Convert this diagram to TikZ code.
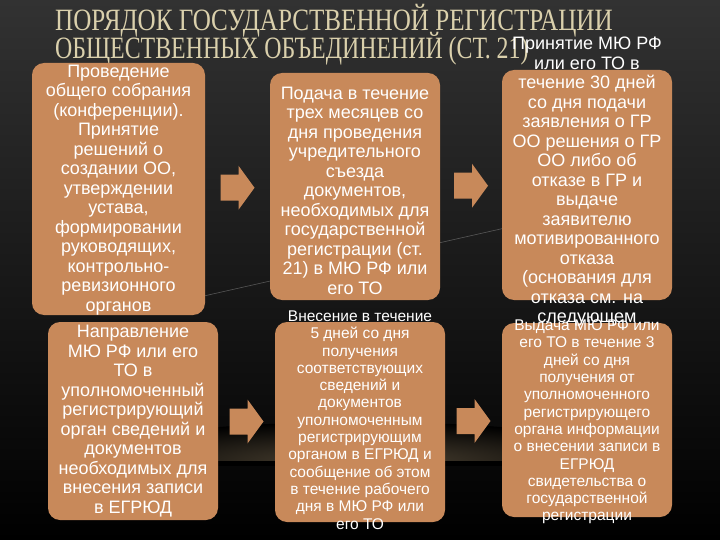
\documentclass[tikz,border=0pt]{standalone}
\usepackage{graphicx}
\usepackage{fontspec}
\setmainfont{Liberation Serif}
\newfontfamily\boxfont{Liberation Sans}
\usetikzlibrary{calc,positioning}

\definecolor{boxfill}{RGB}{200,137,90}
\definecolor{titlecol}{RGB}{218,208,172}
\definecolor{goldline}{RGB}{196,146,62}
\definecolor{bgtop}{RGB}{50,50,50}
\definecolor{glowcol}{RGB}{78,68,52}

\begin{document}
\begin{tikzpicture}[x=1pt,y=-1pt,
    stagebox/.style={fill=boxfill, rounded corners=12pt, inner sep=0pt},
    stagetext/.style={text=white, align=center, inner sep=0pt,
        font=\boxfont\fontsize{18}{19.5}\selectfont},
    smalltext/.style={stagetext, font=\boxfont\fontsize{15.5}{17.3}\selectfont},
    titletext/.style={anchor=base west, inner sep=0pt, text=titlecol,
        font=\fontsize{31}{31}\selectfont},
    blockarr/.pic={\fill[boxfill] (-17,-13) -- (1,-13) -- (1,-22) -- (17,0)
        -- (1,22) -- (1,13) -- (-17,13) -- cycle;}]
    \useasboundingbox (0,0) rectangle (720,540);

    % Background
    \shade[top color=bgtop, middle color=black, bottom color=black] (0,0) rectangle (720,540);
    \begin{scope}
        \clip (0,400) rectangle (720,462);
        \shade[inner color=glowcol, outer color=black] (360,462) ellipse (290 and 40);
    \end{scope}
    \shade[left color=black, middle color=goldline, right color=black] (70,461) rectangle (660,465);
    \draw[gray, line width=0.6pt, opacity=0.6] (195,298) -- (505,228);

    % Title
    \node[titletext] (titleA) at (55,31) {\scalebox{0.81}[1]{ПОРЯДОК ГОСУДАРСТВЕННОЙ РЕГИСТРАЦИИ}};
    \node[titletext] (titleB) at (55,59) {\scalebox{0.77}[1]{ОБЩЕСТВЕННЫХ ОБЪЕДИНЕНИЙ (СТ. 21)}};

    % Stage boxes
    \node[stagebox, minimum width=173, minimum height=252] (meeting) at (118.5,189) {};
    \node[stagebox, minimum width=170, minimum height=227] (submission) at (355,186.5) {};
    \node[stagebox, minimum width=170, minimum height=230] (decision) at (587,185) {};
    \node[stagebox, minimum width=170, minimum height=198] (sending) at (133,421) {};
    \node[stagebox, minimum width=170, minimum height=200] (entry) at (360,422) {};
    \node[stagebox, minimum width=170, minimum height=194] (issue) at (587,420) {};

    % Arrows between stages
    \pic at ($(meeting.east)!0.5!(submission.west)$) {blockarr};
    \pic at ($(submission.east)!0.5!(decision.west)$) {blockarr};
    \pic at ($(sending.east)!0.5!(entry.west)$) {blockarr};
    \pic at ($(entry.east)!0.5!(issue.west)$) {blockarr};

    % Texts
    \node[stagetext] (meetingtext) at ($(meeting.center)+(0,1)$) {Проведение\\общего собрания\\(конференции).\\Принятие\\решений о\\создании ОО,\\утверждении\\устава,\\формировании\\руководящих,\\контрольно-\\ревизионного\\органов};
    \node[stagetext] (submissiontext) at ($(submission.center)+(0,4)$) {Подача в течение\\трех месяцев со\\дня проведения\\учредительного\\съезда\\документов,\\необходимых для\\государственной\\регистрации (ст.\\21) в МЮ РФ или\\его ТО};
    \node[stagetext] (decisiontext) at ($(decision.center)+(0,-3)$) {Принятие МЮ РФ\\или его ТО в\\течение 30 дней\\со дня подачи\\заявления о ГР\\ОО решения о ГР\\ОО либо об\\отказе в ГР и\\выдаче\\заявителю\\мотивированного\\отказа\\(основания для\\отказа см. на\\следующем};
    \node[stagetext] (sendingtext) at (sending.center) {Направление\\МЮ РФ или его\\ТО в\\уполномоченный\\регистрирующий\\орган сведений и\\документов\\необходимых для\\внесения записи\\в ЕГРЮД};
    \node[smalltext] (entrytext) at ($(entry.center)+(0,-2)$) {Внесение в течение\\5 дней со дня\\получения\\соответствующих\\сведений и\\документов\\уполномоченным\\регистрирующим\\органом в ЕГРЮД и\\сообщение об этом\\в течение рабочего\\дня в МЮ РФ или\\его ТО};
    \node[smalltext] (issuetext) at ($(issue.center)+(0,2)$) {Выдача МЮ РФ или\\его ТО в течение 3\\дней со дня\\получения от\\уполномоченного\\регистрирующего\\органа информации\\о внесении записи в\\ЕГРЮД\\свидетельства о\\государственной\\регистрации};
\end{tikzpicture}
\end{document}
